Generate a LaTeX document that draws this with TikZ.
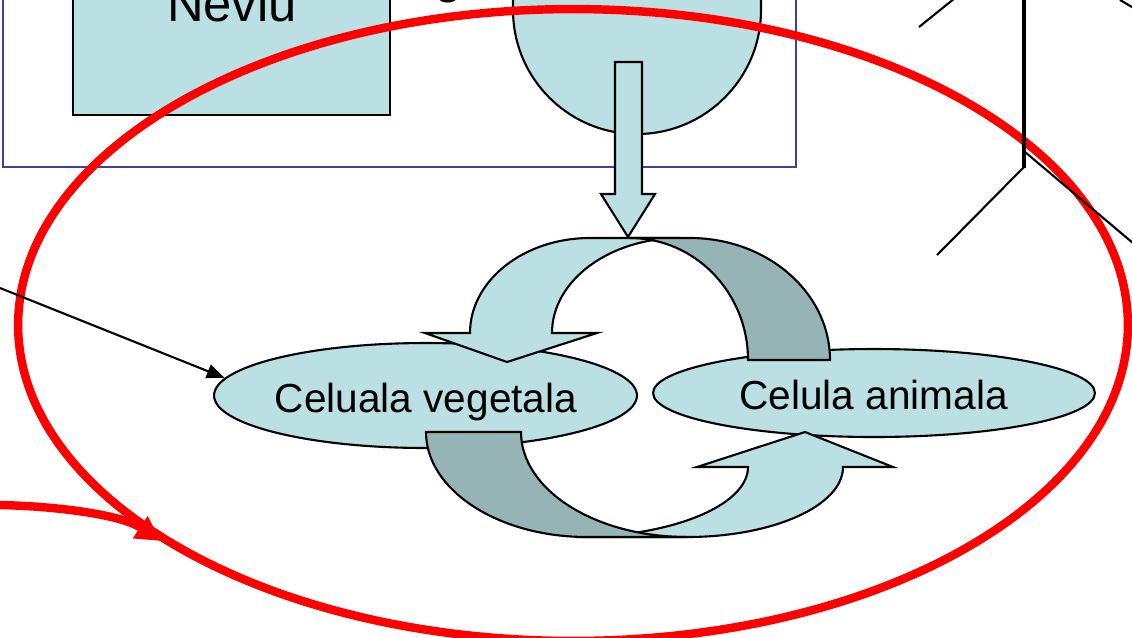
\documentclass[tikz,border=0pt]{standalone}
\usepackage{fontspec}
\setmainfont{Liberation Sans}
\usetikzlibrary{arrows.meta,shapes.geometric}
\definecolor{cellblue}{RGB}{186,224,227}
\definecolor{bandgray}{RGB}{150,180,182}
\definecolor{framecol}{RGB}{64,64,160}
\begin{document}
\begin{tikzpicture}[x=0.02cm, y=-0.02cm,
  outline/.style={draw=black, line width=1.2pt, line join=miter},
  cellfill/.style={outline, fill=cellblue},
  backfill/.style={outline, fill=bandgray},
  cell/.style={ellipse, cellfill, inner sep=0pt},
  celltext/.style={anchor=base, inner sep=0pt, font=\fontsize{23.1pt}{27pt}\selectfont},
  bigtext/.style={anchor=base, inner sep=0pt, font=\fontsize{28.9pt}{34pt}\selectfont},
  redline/.style={draw=red, line width=4.8pt},
  thinline/.style={draw=black, line width=1.2pt},
]
\path[use as bounding box, clip] (0,0) rectangle (1132,637);

% upper frame with the box and the rounded container
\draw[framecol, line width=0.9pt] (3,-10) rectangle (796,167);
\path[cellfill] (73,-10) rectangle (390,115);
\node[bigtext] (neviu) at (232,21) {Neviu};
\node[bigtext] (gtail) at (449,-8) {g};
\path[cellfill] (513,-10) -- (513,10)
  .. controls (513,78.4) and (568.6,134) .. (637,134)
  .. controls (705.4,134) and (761,78.4) .. (761,10) -- (761,-10) -- cycle;

% block arrow pointing down
\path[cellfill] (615,62) -- (642,62) -- (642,194) -- (655,194) -- (628,237)
  -- (601,194) -- (615,194) -- cycle;

% red outline and red pointer
\draw[redline] (573,325) ellipse [x radius=11.1cm, y radius=6.32cm];
\coordinate (redstart) at (0,505);
\coordinate (redtip) at (161,541);
\draw[redline, -{Triangle[length=0.5cm,width=0.5cm]}]
  (redstart) .. controls (50,506) and (119.5,513.5) .. (redtip);

% the two cells
\node[cell, minimum width=8.46cm, minimum height=2.1cm] (veg) at (425.5,395.5) {};
\node[cell, minimum width=8.84cm, minimum height=1.76cm] (ani) at (874,393) {};
\node[celltext] (vegtxt) at (426,412) {Celuala vegetala};
\node[celltext] (anitxt) at (873.5,409) {Celula animala};

% upper circular arrow: front face, then back face
\path[cellfill] (470,333) .. controls (470,280.6) and (523.8,238) .. (590,238)
  -- (680,238) .. controls (609.3,238) and (552,280.6) .. (552,333)
  -- (597,333) -- (507,362) -- (425,333) -- cycle;
\path[backfill] (630,238) .. controls (695.1,238) and (748,292.7) .. (748,360)
  -- (830,360) .. controls (830,292.7) and (767.3,238) .. (690,238) -- cycle;

% lower circular arrow: front face, then back face
\path[cellfill] (576,537) -- (687,537) .. controls (773.1,537) and (843,505.6) .. (843,467)
  -- (893,467) -- (805,432) -- (697,467) -- (748,467)
  .. controls (748,505.6) and (670.9,537) .. (576,537) -- cycle;
\path[backfill] (426,432) .. controls (426,490) and (498.1,537) .. (587,537)
  -- (687,537) .. controls (595.4,537) and (521,490) .. (521,432) -- cycle;

% lines at the upper right
\draw[black, line width=1.8pt] (1024,-5) -- (1024,167.5);
\draw[thinline] (1024,167) -- (937,255);
\draw[thinline] (1025,152) -- (1140,249);
\draw[thinline] (919,27) -- (960,-6);
\draw[thinline] (1120,0) -- (1140,11.7);

% incoming pointer to the plant cell
\coordinate (lsrc) at (0,288);
\draw[thinline, -{Triangle[length=0.36cm,width=0.28cm]}] (lsrc) -- (veg.175);
\end{tikzpicture}
\end{document}
